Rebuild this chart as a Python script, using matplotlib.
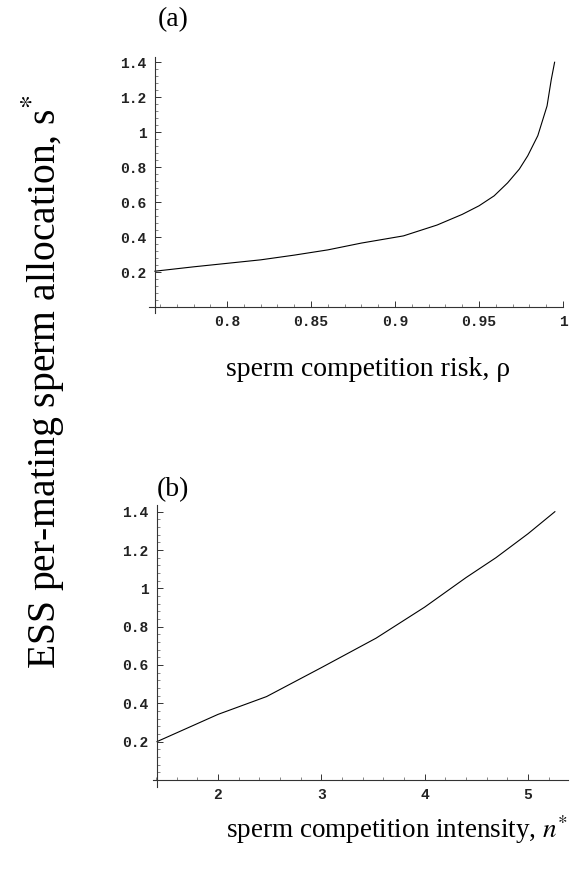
import numpy as np
import matplotlib
matplotlib.use("Agg")
import matplotlib.pyplot as plt
from matplotlib.ticker import MultipleLocator, FuncFormatter

# dane (a): ryzyko konkurencji plemników
rho = [0.757, 0.78, 0.80, 0.82, 0.84, 0.86, 0.88, 0.905, 0.925, 0.94,
       0.95, 0.959, 0.967, 0.974, 0.979, 0.985, 0.9905, 0.993, 0.995]
s_rho = [0.205, 0.23, 0.25, 0.27, 0.297, 0.327, 0.366, 0.407, 0.469, 0.53,
         0.579, 0.636, 0.71, 0.789, 0.865, 0.98, 1.15, 1.30, 1.40]

# dane (b): intensywność konkurencji
n_star = [1.41, 2.0, 2.47, 3.0, 3.53, 4.0, 4.4, 4.69, 5.0, 5.26]
s_n = [0.2, 0.342, 0.435, 0.586, 0.74, 0.902, 1.056, 1.16, 1.285, 1.40]

y_ticks = [0.2, 0.4, 0.6, 0.8, 1.0, 1.2, 1.4]
x_ticks_a = [0.8, 0.85, 0.9, 0.95, 1.0]
x_ticks_b = [2, 3, 4, 5]

plt.rcParams['mathtext.fontset'] = 'stix'
serif = 'Liberation Serif'
mono = 'Liberation Mono'

fig = plt.figure(figsize=(5.71, 8.73), dpi=100)
W, H = 571, 873


def osie(px_left, px_right, px_top, px_bottom):
    return fig.add_axes([px_left / W, 1 - px_bottom / H,
                         (px_right - px_left) / W, (px_bottom - px_top) / H])


def styl(ax, x0, xticks, minor_x):
    for s in ['top', 'right']:
        ax.spines[s].set_visible(False)
    ax.spines['left'].set_position(('data', x0))
    ax.spines['bottom'].set_position(('data', 0))
    for s in ['left', 'bottom']:
        ax.spines[s].set_linewidth(0.8)
        ax.spines[s].set_color('#333333')
    ax.set_xticks(xticks)
    ax.set_yticks(y_ticks)
    ax.xaxis.set_minor_locator(MultipleLocator(minor_x))
    ax.yaxis.set_minor_locator(MultipleLocator(0.04))
    fmt = FuncFormatter(lambda v, p: f"{v:g}")
    ax.xaxis.set_major_formatter(fmt)
    ax.yaxis.set_major_formatter(fmt)
    ax.tick_params(which='major', direction='in', length=4, width=0.7,
                   color='#333333', pad=6)
    ax.tick_params(which='minor', direction='in', length=2, width=0.5,
                   color='#555555')
    for lab in ax.get_xticklabels() + ax.get_yticklabels():
        lab.set_family(mono)
        lab.set_weight('bold')
        lab.set_fontsize(10.5)
        lab.set_color('#222222')


# wykres (a)
ax1 = osie(149, 563, 57, 313)
ax1.plot(rho, s_rho, color='black', lw=0.8)
ax1.set_xlim(0.7535, 0.999)
ax1.set_ylim(-0.034, 1.43)
styl(ax1, 0.757, x_ticks_a, 0.01)

# wykres (b)
ax2 = osie(153, 568, 505, 787)
ax2.plot(n_star, s_n, color='black', lw=0.8)
ax2.set_xlim(1.371, 5.387)
ax2.set_ylim(-0.037, 1.435)
styl(ax2, 1.41, x_ticks_b, 0.2)

# podpisy
fig.text(173 / W, 1 - 20 / H, "(a)", family=serif, fontsize=20,
         ha='center', va='center')
fig.text(173 / W, 1 - 490 / H, "(b)", family=serif, fontsize=20,
         ha='center', va='center')
fig.text(368 / W, 1 - 369 / H, "sperm competition risk, ρ", family=serif,
         fontsize=20, ha='center', va='center')
fig.text(397 / W, 1 - 830 / H, "sperm competition intensity, $n^{*}$",
         family=serif, fontsize=19.5, ha='center', va='center')
fig.text(43 / W, 1 - 382 / H, "ESS per-mating sperm allocation, s$^{*}$",
         family=serif, fontsize=28.5, ha='center', va='center', rotation=90)

plt.savefig("out.png", dpi=100)
